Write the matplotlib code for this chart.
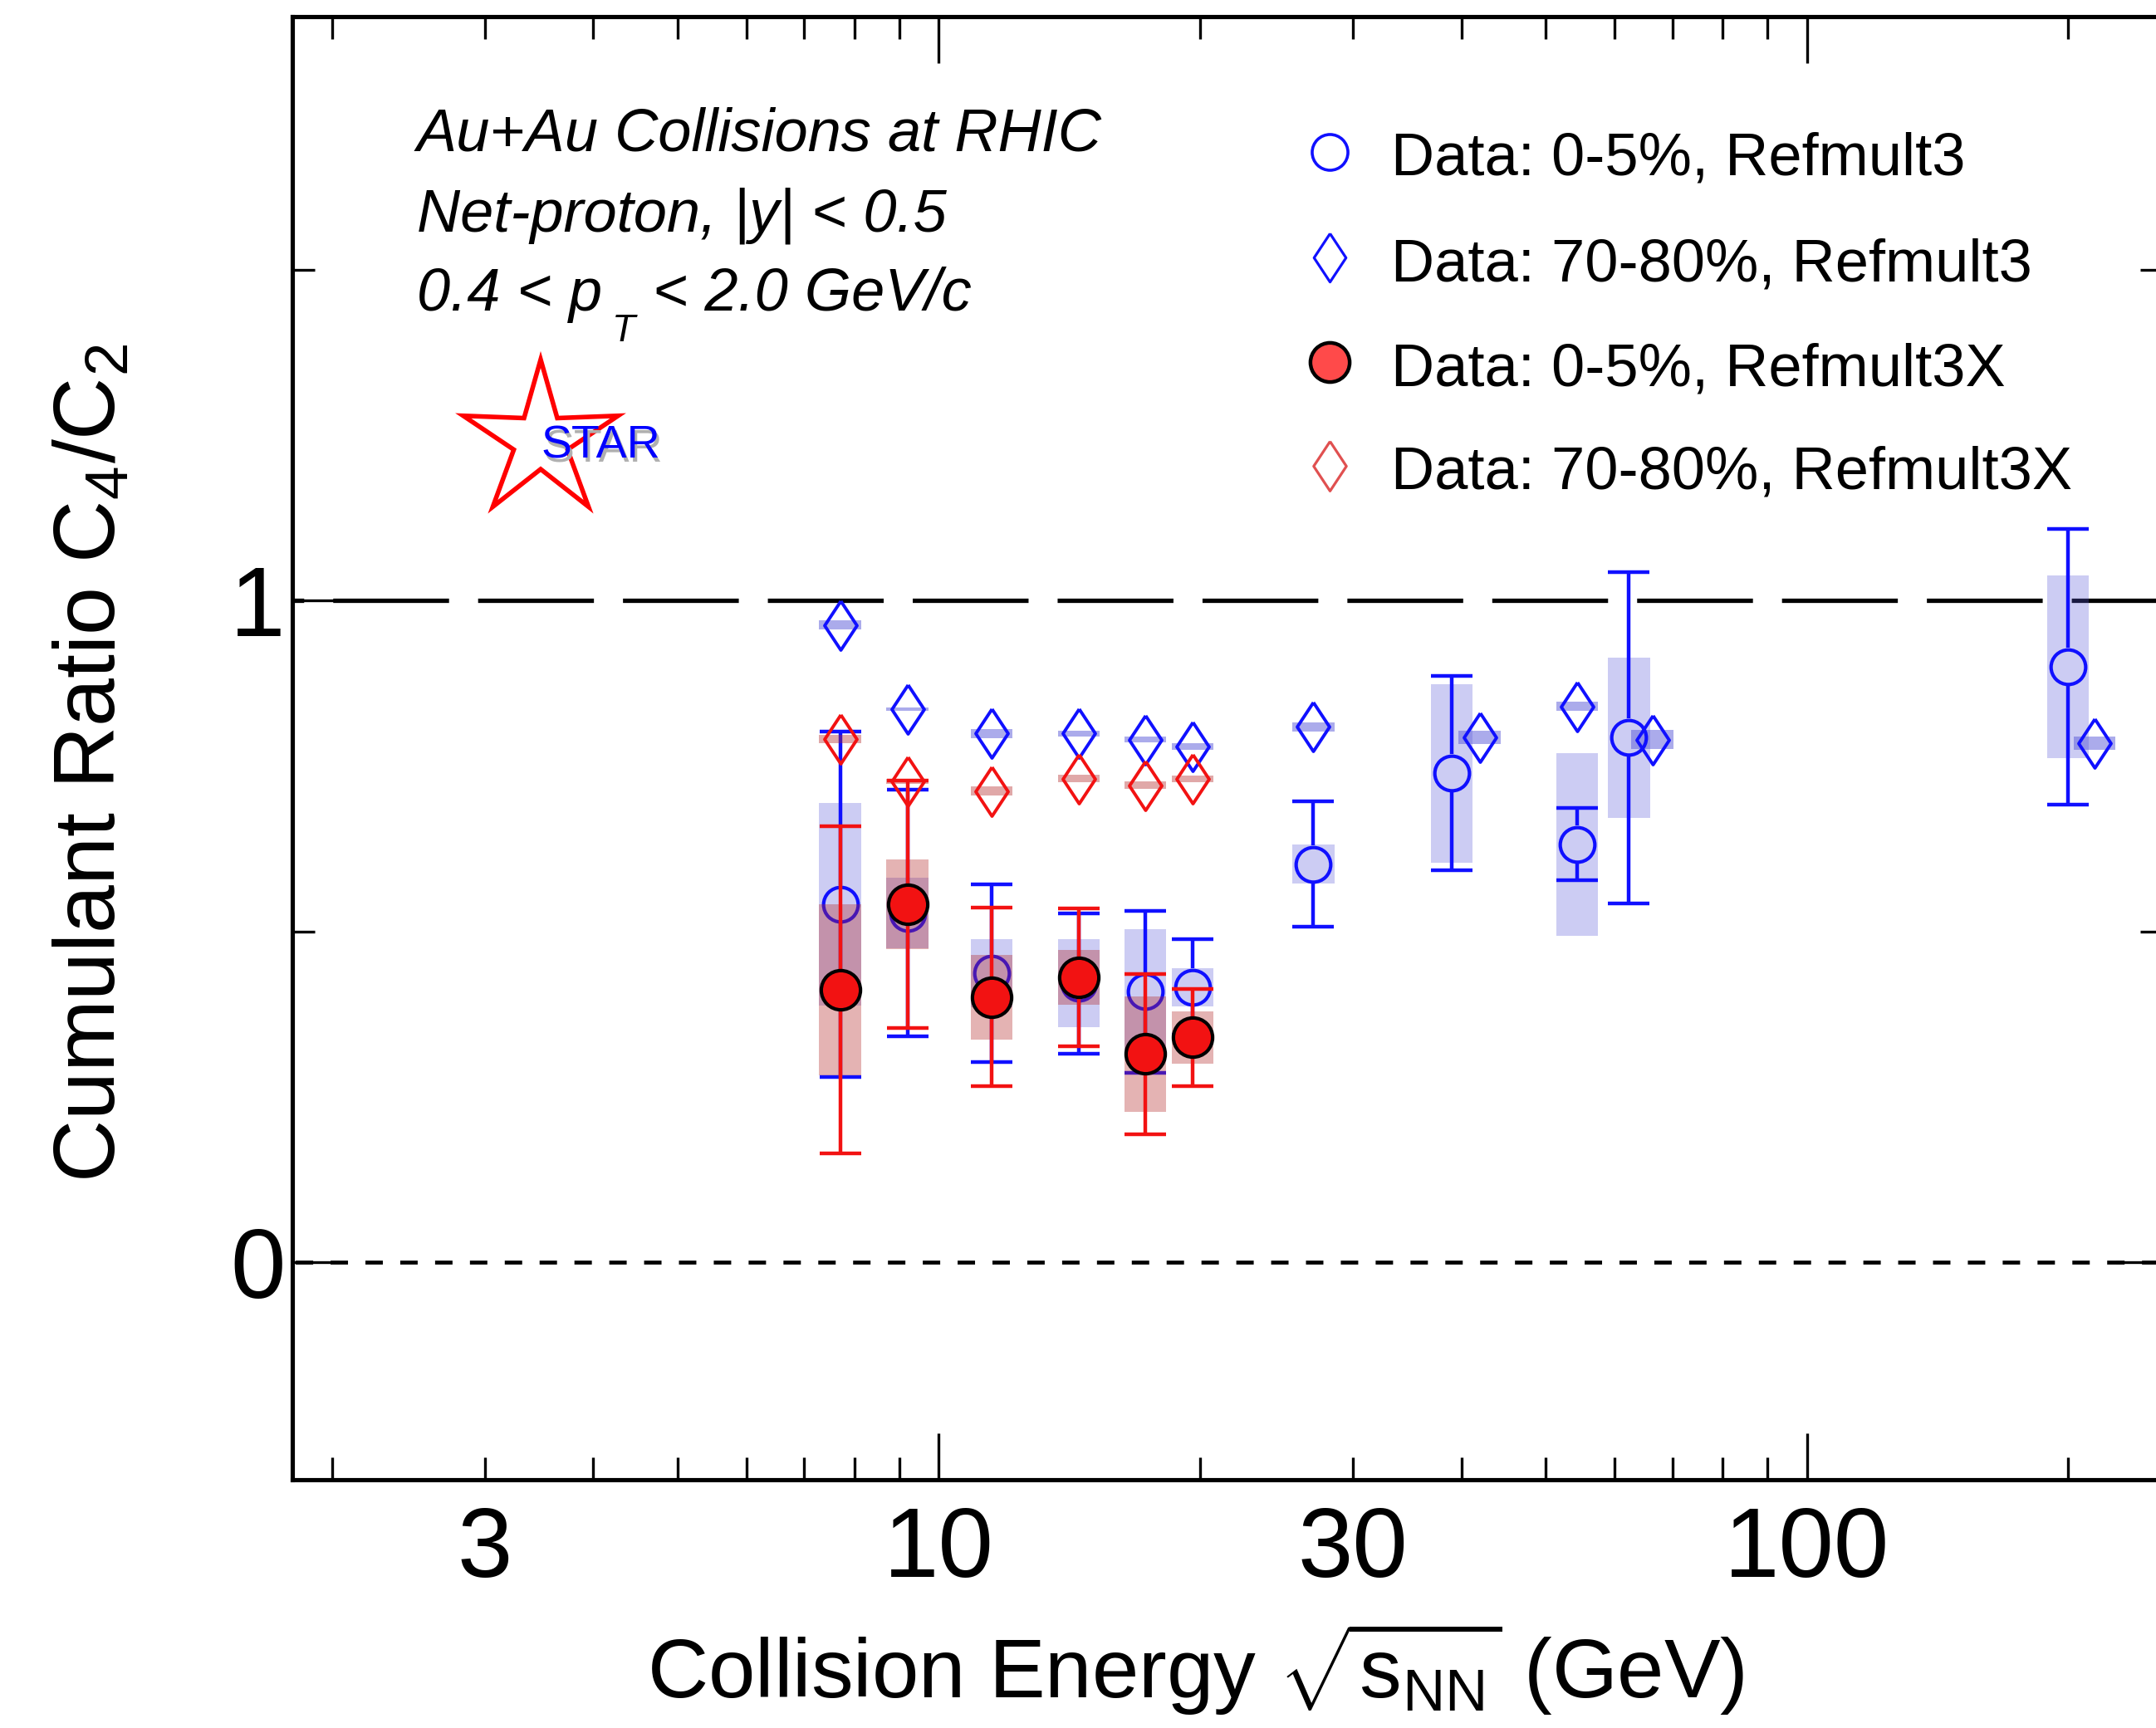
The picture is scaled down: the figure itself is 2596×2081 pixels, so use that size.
import numpy as np
import matplotlib
matplotlib.use("Agg")
import matplotlib.pyplot as plt
from matplotlib.lines import Line2D
from matplotlib.patches import Polygon
from matplotlib.ticker import FixedLocator, FuncFormatter, NullFormatter

plt.rcParams["font.family"] = ["Liberation Sans", "DejaVu Sans"]
plt.rcParams["mathtext.fontset"] = "custom"
plt.rcParams["mathtext.rm"] = "Liberation Sans"
plt.rcParams["mathtext.it"] = "Liberation Sans:italic"
plt.rcParams["mathtext.bf"] = "Liberation Sans:bold"
plt.rcParams["lines.scale_dashes"] = False

# ---------------- data: net-proton C4/C2 vs collision energy ----------------
# 0-5% centrality, Refmult3
energy = [7.7, 9.2, 11.5, 14.5, 17.3, 19.6, 27, 39, 54.4, 62.4, 200]
c42_central_rm3 = [0.541, 0.528, 0.437, 0.422, 0.409, 0.416, 0.602, 0.739, 0.632, 0.793, 0.900]
stat_central_rm3 = [0.261, 0.186, 0.134, 0.106, 0.122, 0.072, 0.095, 0.147, 0.055, 0.250, 0.208]
sys_central_rm3 = [0.153, 0.053, 0.051, 0.067, 0.094, 0.029, 0.030, 0.135, 0.138, 0.121, 0.138]

# 70-80% centrality, Refmult3 (displaced slightly in energy where points overlap)
energy_periph = [7.7, 9.2, 11.5, 14.5, 17.3, 19.6, 27, 42.0, 54.4, 66.4, 214.5]
c42_periph_rm3 = [0.963, 0.836, 0.799, 0.799, 0.790, 0.780, 0.809, 0.793, 0.840, 0.790, 0.785]
sys_periph_rm3 = [0.007, 0.003, 0.007, 0.004, 0.004, 0.005, 0.007, 0.010, 0.007, 0.014, 0.010]

# Refmult3X (BES-II energies)
energy_rm3x = [7.7, 9.2, 11.5, 14.5, 17.3, 19.6]
c42_central_rm3x = [0.412, 0.541, 0.401, 0.431, 0.315, 0.340]
stat_central_rm3x = [0.247, 0.187, 0.135, 0.104, 0.121, 0.073]
sys_central_rm3x = [0.129, 0.068, 0.064, 0.041, 0.087, 0.039]
c42_periph_rm3x = [0.791, 0.727, 0.712, 0.731, 0.721, 0.731]
sys_periph_rm3x = [0.006, 0.004, 0.007, 0.006, 0.006, 0.005]

x_major = [10, 100]
x_minor = [2, 3, 4, 5, 6, 7, 8, 9, 20, 30, 40, 50, 60, 70, 80, 90, 200]
x_labelled = [3, 10, 30, 100]
y_major = [0, 1]
y_minor = [0.5, 1.5]

legend_labels = ["Data: 0-5%, Refmult3", "Data: 70-80%, Refmult3",
                 "Data: 0-5%, Refmult3X", "Data: 70-80%, Refmult3X"]

# ---------------- style ----------------
BLUE = "#1010ff"
RED = "#f21212"
BOX_BLUE = (0.35, 0.35, 0.85)
BOX_RED = (0.70, 0.15, 0.15)
BOX_F = 10 ** 0.0242          # half-width of systematic boxes (multiplicative, log axis)
DIAMOND = [(0, 1), (0.66, 0), (0, -1), (-0.66, 0), (0, 1)]
LW_ERR = 3.2

W, H = 2596, 2081
fig = plt.figure(figsize=(W / 100, H / 100), dpi=100)
L, R, T, B = 352, 2604, 20, 1782
ax = fig.add_axes([L / W, (H - B) / H, (R - L) / W, (B - T) / H])
ax.set_xscale("log")
ax.set_xlim(1.8, 257)
ax.set_ylim(-0.328, 1.882)


def px(x, y):
    """pixel position (from top-left) -> figure fraction"""
    return x / W, 1 - y / H


def sys_boxes(x, y, dy, color, alpha, z):
    x = np.asarray(x, float)
    y = np.asarray(y, float)
    dy = np.asarray(dy, float)
    lo, hi = x / BOX_F, x * BOX_F
    ax.bar(lo, 2 * dy, width=hi - lo, bottom=y - dy, align="edge",
           color=color, alpha=alpha, linewidth=0, zorder=z)


def stat_bars(x, y, err, color, gap, z):
    x = np.asarray(x, float)
    y = np.asarray(y, float)
    err = np.asarray(err, float)
    ax.errorbar(x, y, yerr=err, fmt="none", ecolor=color, elinewidth=0,
                capsize=18, capthick=LW_ERR, zorder=z)
    ax.vlines(x, y + gap, y + err, color=color, lw=LW_ERR, zorder=z)
    ax.vlines(x, y - err, y - gap, color=color, lw=LW_ERR, zorder=z)


# reference lines
ax.axhline(1, color="black", lw=3.8, linestyle=(90.5, (100.4, 25.2)), zorder=0.5)
ax.axhline(0, color="black", lw=3.4, linestyle=(27.6, (15.1, 15.1)), zorder=0.5)

# Refmult3 series
sys_boxes(energy, c42_central_rm3, sys_central_rm3, BOX_BLUE, 0.30, 1)
sys_boxes(energy_periph, c42_periph_rm3, sys_periph_rm3, BOX_BLUE, 0.50, 1.2)
ms_circle = 30
gap = (ms_circle / 2 + 1.5) / 72 * 100 / ((B - T) / (1.882 + 0.328))
stat_bars(energy, c42_central_rm3, stat_central_rm3, BLUE, gap, 2)
ax.plot(energy, c42_central_rm3, "o", ms=ms_circle, mfc="none", mec=BLUE, mew=3,
        zorder=2.5)
ax.plot(energy_periph, c42_periph_rm3, linestyle="none", marker=DIAMOND, ms=42.5,
        mfc="none", mec=BLUE, mew=2.8, zorder=2.5)

# Refmult3X series
sys_boxes(energy_rm3x, c42_central_rm3x, sys_central_rm3x, BOX_RED, 0.35, 3)
sys_boxes(energy_rm3x, c42_periph_rm3x, sys_periph_rm3x, BOX_RED, 0.40, 3.2)
stat_bars(energy_rm3x, c42_central_rm3x, stat_central_rm3x, RED, 0.0, 4)
ax.plot(energy_rm3x, c42_central_rm3x, "o", ms=34, mfc=RED, mec="black", mew=3,
        zorder=5)
ax.plot(energy_rm3x, c42_periph_rm3x, linestyle="none", marker=DIAMOND, ms=42.5,
        mfc="none", mec=RED, mew=2.8, zorder=5)

# axes, ticks
for s in ax.spines.values():
    s.set_linewidth(3.7)
ax.xaxis.set_major_locator(FixedLocator(x_major))
ax.xaxis.set_minor_locator(FixedLocator(x_minor))
fmt = FuncFormatter(lambda v, pos: ("%g" % v) if any(abs(v - l) < 1e-6 for l in x_labelled) else "")
ax.xaxis.set_major_formatter(fmt)
ax.xaxis.set_minor_formatter(fmt)
ax.yaxis.set_major_locator(FixedLocator(y_major))
ax.yaxis.set_minor_locator(FixedLocator(y_minor))
ax.yaxis.set_major_formatter(FuncFormatter(lambda v, pos: "%g" % v))
ax.yaxis.set_minor_formatter(NullFormatter())
ax.tick_params(which="both", direction="in", top=True, right=True, width=2.4,
               labelsize=86)
ax.tick_params(which="major", length=40)
ax.tick_params(which="minor", length=19.5)
ax.tick_params(axis="x", which="both", pad=22)
ax.tick_params(axis="y", which="both", pad=6)

# axis titles
fig.text(*px(1440, 2045), r"Collision Energy $\sqrt{\mathrm{s}_{\mathrm{NN}}}$ (GeV)",
         fontsize=73, ha="center", va="baseline")
fig.text(*px(112, 919), r"Cumulant Ratio C$_{4}$/C$_{2}$", fontsize=75,
         rotation=90, ha="center", va="center")

# description
fig.text(*px(502, 182), "Au+Au Collisions at RHIC", fontsize=52, style="italic",
         va="baseline")
fig.text(*px(502, 279), "Net-proton, |y| < 0.5", fontsize=52, style="italic",
         va="baseline")
fig.text(*px(502, 374), "0.4 < p", fontsize=52, style="italic", va="baseline")
fig.text(*px(737, 411), "T", fontsize=33, style="italic", va="baseline")
fig.text(*px(786, 374), "< 2.0 GeV/c", fontsize=52, style="italic", va="baseline")

# STAR logo
cx, cy, Ro, Ri = 651, 531, 98, 34
pts = []
for k in range(5):
    a_out = np.radians(90 + 72 * k)
    a_in = np.radians(90 + 36 + 72 * k)
    pts.append(px(cx + Ro * np.cos(a_out), cy - Ro * np.sin(a_out)))
    pts.append(px(cx + Ri * np.cos(a_in), cy - Ri * np.sin(a_in)))
fig.add_artist(Polygon(pts, closed=True, fill=False, edgecolor="#ff0000", lw=4.0,
                       transform=fig.transFigure))
fig.text(*px(655, 557), "STAR", fontsize=40, color="#b0b0b0", va="baseline")
fig.text(*px(652, 552), "STAR", fontsize=40, color="#0000ff", va="baseline")

# legend
rows = [183, 310, 436, 561]
styles = [
    dict(marker="o", ms=31, mfc="none", mec=BLUE, mew=2.6),
    dict(marker=DIAMOND, ms=42, mfc="none", mec=BLUE, mew=2.3),
    dict(marker="o", ms=34, mfc="#ff4a4a", mec="black", mew=3.2),
    dict(marker=DIAMOND, ms=43, mfc="none", mec="#e05050", mew=2.3),
]
for yrow, st, lab in zip(rows, styles, legend_labels):
    fx, fy = px(1601, yrow)
    fig.add_artist(Line2D([fx], [fy], linestyle="none", transform=fig.transFigure, **st))
    fig.text(*px(1675, yrow + 28), lab, fontsize=52, va="baseline")

fig.savefig("out.png", dpi=100)
